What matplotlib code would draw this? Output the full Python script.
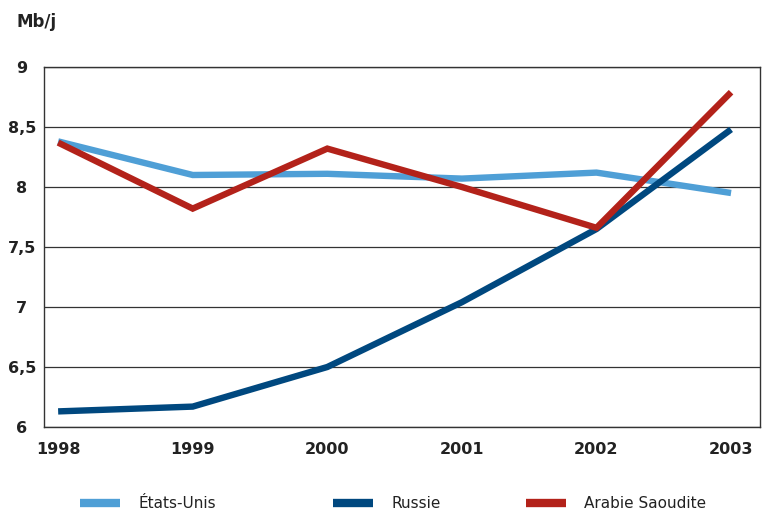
import matplotlib.pyplot as plt

years = [1998, 1999, 2000, 2001, 2002, 2003]
etats_unis = [8.38, 8.10, 8.11, 8.07, 8.12, 7.95]
russie = [6.13, 6.17, 6.50, 7.04, 7.65, 8.48]
arabie = [8.37, 7.82, 8.32, 8.00, 7.66, 8.79]

names = ["États-Unis", "Russie", "Arabie Saoudite"]
colors = ["#4f9fd6", "#00487f", "#b3221a"]
series = [etats_unis, russie, arabie]

plt.rcParams["font.family"] = ["DejaVu Sans"]

fig = plt.figure(figsize=(7.68, 5.11), dpi=100)
ax = fig.add_axes([44 / 768, 1 - 427 / 511, (760 - 44) / 768, (427 - 67) / 511])

handles = []
for vals, col, name in zip(series, colors, names):
    h, = ax.plot(years, vals, color=col, lw=4.6, solid_capstyle="butt",
                 solid_joinstyle="miter", label=name)
    handles.append(h)

ax.set_xlim(1997.895, 2003.215)
ax.set_ylim(6, 9)
ax.set_xticks(years)
ax.set_yticks([6, 6.5, 7, 7.5, 8, 8.5, 9])
ax.set_yticklabels(["6", "6,5", "7", "7,5", "8", "8,5", "9"])
ax.yaxis.grid(True, color="#333333", lw=0.9)
ax.set_axisbelow(True)
for s in ax.spines.values():
    s.set_color("#333333")
    s.set_linewidth(1.0)
ax.tick_params(length=0, labelsize=11.5, colors="#222222")
for lab in ax.get_xticklabels() + ax.get_yticklabels():
    lab.set_fontweight("bold")
for lab in ax.get_yticklabels():
    lab.set_horizontalalignment("center")
ax.tick_params(axis="x", pad=11)
ax.tick_params(axis="y", pad=16)

fig.text(17 / 768, 1 - 22 / 511, "Mb/j", fontsize=12, fontweight="bold",
         color="#222222", va="center", ha="left")

# legend entries placed individually to match uneven spacing
leg_x = [80 / 768, 333 / 768, 526 / 768]
for h, x in zip(handles, leg_x):
    leg = fig.legend([h], [h.get_label()], loc="center left",
                     bbox_to_anchor=(x, 1 - 504 / 511), frameon=False,
                     fontsize=11, handlelength=2.6, handletextpad=1.2,
                     borderaxespad=0, borderpad=0)
    for t in leg.get_texts():
        t.set_color("#222222")
    for lh in leg.legend_handles:
        lh.set_linewidth(6)

fig.savefig("out.png", dpi=100)
